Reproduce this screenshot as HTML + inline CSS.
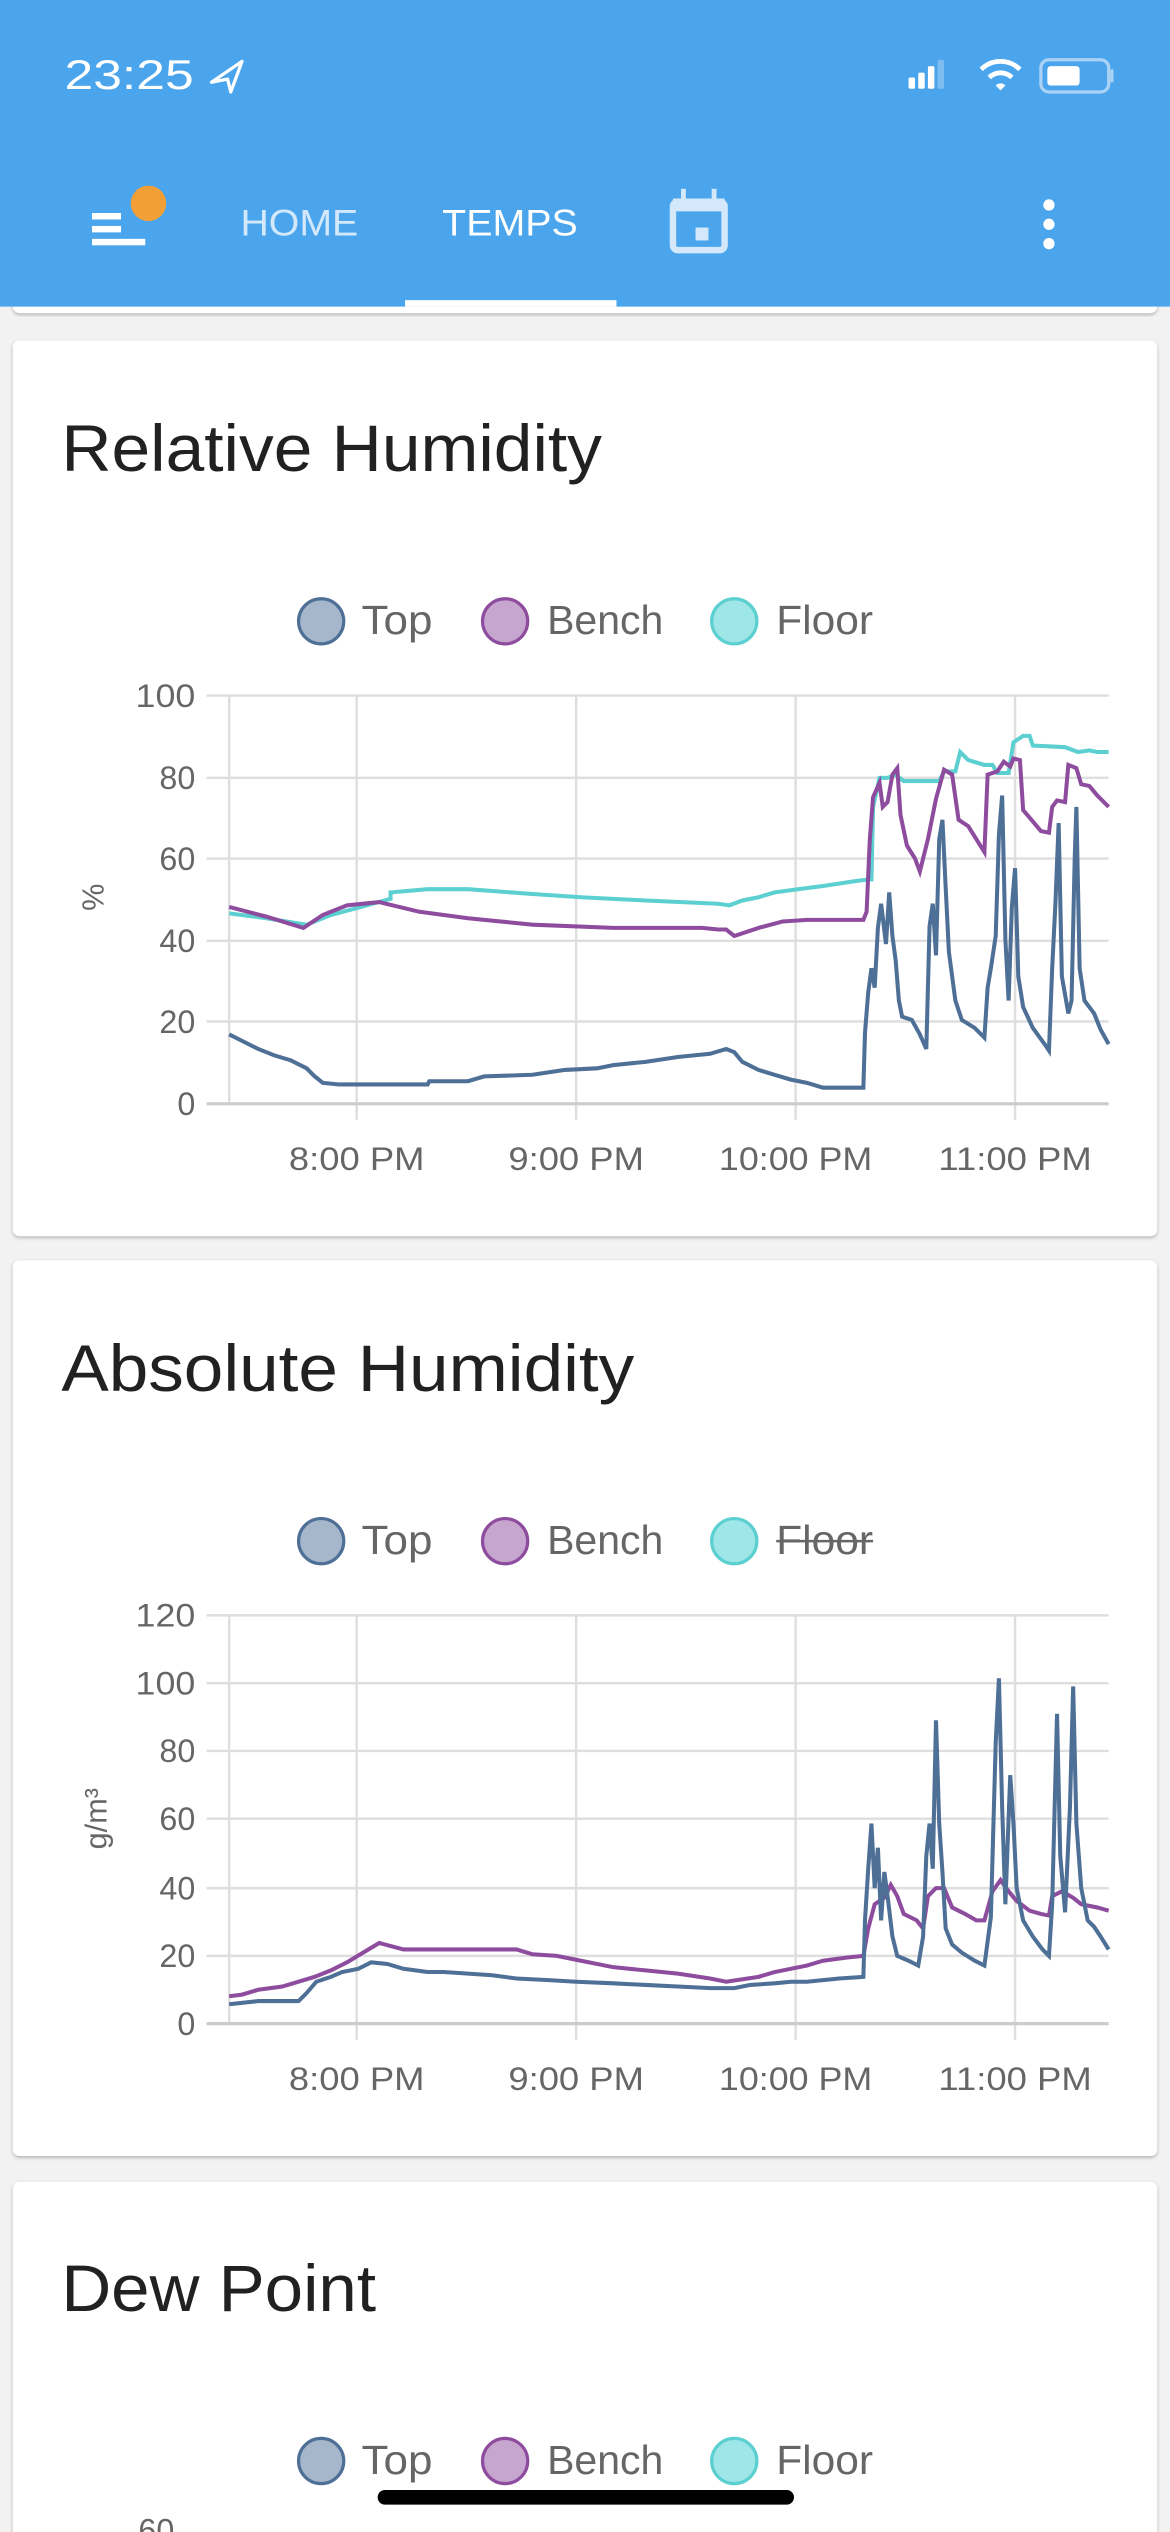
<!DOCTYPE html>
<html><head><meta charset="utf-8"><style>
html,body{margin:0;padding:0;background:#f2f2f2;}
svg{display:block;}
text{font-family:"Liberation Sans",sans-serif;}
</style></head><body>
<svg width="1170" height="2532" viewBox="0 0 725 1569" xmlns="http://www.w3.org/2000/svg">
<defs>
<filter id="sh" x="-5%" y="-5%" width="110%" height="110%"><feDropShadow dx="0" dy="1" stdDeviation="1.2" flood-color="#000" flood-opacity="0.28"/></filter>
</defs>
<rect width="725" height="1569" fill="#f2f2f2"/>
<rect x="8" y="150" width="709" height="44" rx="4" fill="#fff" filter="url(#sh)"/>
<rect x="0" y="0" width="725" height="190" fill="#4ba5ec"/>
<text x="40" y="55" font-size="26" fill="#fff" textLength="80" lengthAdjust="spacingAndGlyphs">23:25</text>
<path d="M131 51 L150 38 L143 57 L141 49 Z" fill="none" stroke="#fff" stroke-width="2" stroke-linejoin="round"/>
<rect x="563" y="48" width="4" height="7" rx="1" fill="#fff"/><rect x="569" y="45" width="4" height="10" rx="1" fill="#fff"/><rect x="575" y="41" width="4" height="14" rx="1" fill="#fff"/><rect x="581" y="37" width="4" height="18" rx="1" fill="#7fbdf0"/>
<path d="M608 43 A17 17 0 0 1 632 43" fill="none" stroke="#fff" stroke-width="3"/>
<path d="M613 48 A10 10 0 0 1 627 48" fill="none" stroke="#fff" stroke-width="3"/>
<path d="M617 53 L620 56 L623 53 A4 4 0 0 0 617 53Z" fill="#fff"/>
<rect x="645" y="37" width="42" height="20" rx="5" fill="none" stroke="#a9d2f5" stroke-width="2"/>
<rect x="649" y="41" width="20" height="12" rx="2" fill="#fff"/>
<rect x="688" y="43" width="2" height="8" fill="#a9d2f5"/>
<rect x="57" y="132" width="18" height="4" fill="#fff"/><rect x="57" y="140" width="18" height="4" fill="#fff"/><rect x="57" y="148" width="33" height="4" fill="#fff"/>
<circle cx="92" cy="126" r="11" fill="#f29f38"/>
<text x="149" y="146" font-size="23" fill="#d3e9fb" textLength="73" lengthAdjust="spacingAndGlyphs">HOME</text>
<text x="274" y="146" font-size="23" fill="#fff" textLength="84" lengthAdjust="spacingAndGlyphs">TEMPS</text>
<rect x="417" y="125" width="32" height="30" rx="3" fill="none" stroke="#d3e9fb" stroke-width="4"/>
<rect x="417" y="123" width="32" height="8" fill="#d3e9fb"/>
<rect x="422" y="117" width="3" height="8" fill="#d3e9fb"/><rect x="441" y="117" width="3" height="8" fill="#d3e9fb"/>
<rect x="431" y="141" width="8" height="8" fill="#d3e9fb"/>
<circle cx="650" cy="127" r="3.5" fill="#fff"/><circle cx="650" cy="139" r="3.5" fill="#fff"/><circle cx="650" cy="151" r="3.5" fill="#fff"/>
<rect x="251" y="186" width="131" height="4" fill="#fff"/>

<!-- CARD 1 -->
<rect x="8" y="211" width="709" height="555" rx="4" fill="#fff" filter="url(#sh)"/>
<text x="38" y="292" font-size="41" fill="#212121" textLength="335" lengthAdjust="spacingAndGlyphs">Relative Humidity</text>
<circle cx="199" cy="385" r="14" fill="#a6b7cb" stroke="#4e6f96" stroke-width="2"/>
<text x="224" y="393" font-size="25" fill="#666" textLength="44" lengthAdjust="spacingAndGlyphs">Top</text>
<circle cx="313" cy="385" r="14" fill="#c6a5ce" stroke="#8e4c9e" stroke-width="2"/>
<text x="339" y="393" font-size="25" fill="#666" textLength="72" lengthAdjust="spacingAndGlyphs">Bench</text>
<circle cx="455" cy="385" r="14" fill="#9ee6e7" stroke="#5ccfd1" stroke-width="2"/>
<text x="481" y="393" font-size="25" fill="#666" textLength="60" lengthAdjust="spacingAndGlyphs">Floor</text>
<g stroke="#dedede" stroke-width="1.5">
<line x1="128" y1="431" x2="687" y2="431"/><line x1="128" y1="482" x2="687" y2="482"/><line x1="128" y1="532" x2="687" y2="532"/><line x1="128" y1="583" x2="687" y2="583"/><line x1="128" y1="633" x2="687" y2="633"/>
<line x1="221" y1="431" x2="221" y2="694"/><line x1="357" y1="431" x2="357" y2="694"/><line x1="493" y1="431" x2="493" y2="694"/><line x1="629" y1="431" x2="629" y2="694"/>
<line x1="142" y1="431" x2="142" y2="684"/>
</g>
<line x1="128" y1="684" x2="687" y2="684" stroke="#ccc" stroke-width="2"/>
<g font-size="20" fill="#666" text-anchor="end">
<text x="121" y="438" textLength="37" lengthAdjust="spacingAndGlyphs">100</text><text x="121" y="489">80</text><text x="121" y="539">60</text><text x="121" y="590">40</text><text x="121" y="640">20</text><text x="121" y="691">0</text>
</g>
<g font-size="20" fill="#666" text-anchor="middle">
<text x="221" y="725" textLength="84" lengthAdjust="spacingAndGlyphs">8:00 PM</text><text x="357" y="725" textLength="84" lengthAdjust="spacingAndGlyphs">9:00 PM</text><text x="493" y="725" textLength="95" lengthAdjust="spacingAndGlyphs">10:00 PM</text><text x="629" y="725" textLength="95" lengthAdjust="spacingAndGlyphs">11:00 PM</text>
</g>
<text transform="translate(64,556) rotate(-90)" font-size="19" fill="#666" text-anchor="middle">%</text>
<polyline fill="none" stroke="#5ccfd1" stroke-width="2.5" points="142,566 165,569 190,573 205,567 220,563 242,557 242,553 265,551 290,551 330,554 360,556 400,558 445,560 452,561 460,558 470,556 480,553 495,551 510,549 530,546 538,545 540,545 541,500 545,482 550,482 555,480 560,484 575,484 582,484 585,478 592,478 595,466 600,471 610,474 615,474 618,479 625,479 628,460 634,456 638,456 640,462 660,463 668,466 675,465 680,466 687,466"/>
<polyline fill="none" stroke="#8e4c9e" stroke-width="2.5" points="142,562 165,568 188,575 200,567 215,561 235,559 260,565 290,569 330,573 380,575 435,575 445,576 450,576 455,580 470,575 485,571 500,570 535,570 537,565 539,520 541,494 545,485 547,500 550,497 553,480 556,476 558,505 562,524 567,532 570,540 575,520 580,495 585,477 590,480 594,508 600,512 605,520 610,528 612,480 618,478 622,472 626,475 628,470 632,471 634,502 640,509 645,515 650,516 652,500 655,496 660,497 662,474 667,476 670,486 675,487 680,493 687,500"/>
<polyline fill="none" stroke="#4e6f96" stroke-width="2.5" points="142,641 150,645 160,650 170,654 180,657 190,662 195,667 200,671 210,672 265,672 266,670 290,670 300,667 330,666 350,663 370,662 380,660 400,658 420,655 440,653 450,650 455,652 460,658 470,663 480,666 490,669 500,671 510,674 535,674 536,640 538,615 540,600 542,612 544,575 546,560 549,585 551,553 553,580 555,595 557,620 559,630 565,632 570,641 574,650 576,574 578,560 580,592 582,520 584,508 586,550 588,590 592,620 596,632 604,637 606,639 610,643 612,612 614,600 617,580 619,517 621,493 623,582 625,620 627,562 629,538 631,605 634,624 640,637 648,648 650,651 652,600 654,560 656,510 658,605 662,628 664,620 666,530 667,500 669,600 672,620 678,628 682,638 687,647"/>

<!-- CARD 2 -->
<rect x="8" y="781" width="709" height="555" rx="4" fill="#fff" filter="url(#sh)"/>
<text x="38" y="862" font-size="41" fill="#212121" textLength="355" lengthAdjust="spacingAndGlyphs">Absolute Humidity</text>
<circle cx="199" cy="955" r="14" fill="#a6b7cb" stroke="#4e6f96" stroke-width="2"/>
<text x="224" y="963" font-size="25" fill="#666" textLength="44" lengthAdjust="spacingAndGlyphs">Top</text>
<circle cx="313" cy="955" r="14" fill="#c6a5ce" stroke="#8e4c9e" stroke-width="2"/>
<text x="339" y="963" font-size="25" fill="#666" textLength="72" lengthAdjust="spacingAndGlyphs">Bench</text>
<circle cx="455" cy="955" r="14" fill="#9ee6e7" stroke="#5ccfd1" stroke-width="2"/>
<text x="481" y="963" font-size="25" fill="#666" textLength="60" lengthAdjust="spacingAndGlyphs">Floor</text>
<line x1="481" y1="955" x2="541" y2="955" stroke="#666" stroke-width="1.5"/>
<g stroke="#dedede" stroke-width="1.5">
<line x1="128" y1="1001" x2="687" y2="1001"/><line x1="128" y1="1043" x2="687" y2="1043"/><line x1="128" y1="1085" x2="687" y2="1085"/><line x1="128" y1="1127" x2="687" y2="1127"/><line x1="128" y1="1170" x2="687" y2="1170"/><line x1="128" y1="1212" x2="687" y2="1212"/>
<line x1="221" y1="1001" x2="221" y2="1264"/><line x1="357" y1="1001" x2="357" y2="1264"/><line x1="493" y1="1001" x2="493" y2="1264"/><line x1="629" y1="1001" x2="629" y2="1264"/>
<line x1="142" y1="1001" x2="142" y2="1254"/>
</g>
<line x1="128" y1="1254" x2="687" y2="1254" stroke="#ccc" stroke-width="2"/>
<g font-size="20" fill="#666" text-anchor="end">
<text x="121" y="1008" textLength="37" lengthAdjust="spacingAndGlyphs">120</text><text x="121" y="1050" textLength="37" lengthAdjust="spacingAndGlyphs">100</text><text x="121" y="1092">80</text><text x="121" y="1134">60</text><text x="121" y="1177">40</text><text x="121" y="1219">20</text><text x="121" y="1261">0</text>
</g>
<g font-size="20" fill="#666" text-anchor="middle">
<text x="221" y="1295" textLength="84" lengthAdjust="spacingAndGlyphs">8:00 PM</text><text x="357" y="1295" textLength="84" lengthAdjust="spacingAndGlyphs">9:00 PM</text><text x="493" y="1295" textLength="95" lengthAdjust="spacingAndGlyphs">10:00 PM</text><text x="629" y="1295" textLength="95" lengthAdjust="spacingAndGlyphs">11:00 PM</text>
</g>
<text transform="translate(66,1127) rotate(-90)" font-size="19" fill="#666" text-anchor="middle">g/m³</text>
<polyline fill="none" stroke="#8e4c9e" stroke-width="2.5" points="142,1237 150,1236 160,1233 175,1231 185,1228 195,1225 205,1221 215,1216 225,1210 235,1204 250,1208 254,1208 290,1208 320,1208 330,1211 345,1212 360,1215 380,1219 400,1221 420,1223 440,1226 450,1228 470,1225 480,1222 490,1220 500,1218 510,1215 525,1213 535,1212 538,1195 542,1180 548,1176 552,1168 556,1175 560,1186 568,1190 572,1195 575,1175 580,1170 585,1170 590,1182 598,1186 605,1190 610,1190 615,1172 620,1165 625,1172 630,1178 638,1184 645,1186 650,1187 652,1175 658,1172 665,1176 670,1180 680,1182 687,1184"/>
<polyline fill="none" stroke="#4e6f96" stroke-width="2.5" points="142,1242 160,1240 185,1240 190,1235 196,1228 205,1225 212,1222 222,1220 230,1216 240,1217 250,1220 265,1222 275,1222 290,1223 305,1224 320,1226 340,1227 357,1228 380,1229 400,1230 420,1231 440,1232 455,1232 465,1230 480,1229 490,1228 500,1228 510,1227 520,1226 535,1225 536,1190 538,1158 540,1130 542,1170 544,1145 546,1190 548,1160 550,1175 553,1200 556,1212 563,1215 569,1218 572,1200 574,1150 576,1130 578,1158 580,1066 582,1130 584,1160 586,1195 590,1205 596,1210 604,1215 610,1218 614,1188 617,1080 619,1040 621,1120 623,1180 626,1100 628,1130 630,1170 634,1190 640,1200 646,1208 650,1212 652,1180 655,1062 657,1150 660,1185 663,1120 665,1045 667,1130 670,1170 674,1190 678,1194 682,1200 687,1208"/>

<!-- CARD 3 -->
<rect x="8" y="1352" width="709" height="240" rx="4" fill="#fff" filter="url(#sh)"/>
<text x="38" y="1432" font-size="41" fill="#212121" textLength="195" lengthAdjust="spacingAndGlyphs">Dew Point</text>
<circle cx="199" cy="1525" r="14" fill="#a6b7cb" stroke="#4e6f96" stroke-width="2"/>
<text x="224" y="1533" font-size="25" fill="#666" textLength="44" lengthAdjust="spacingAndGlyphs">Top</text>
<circle cx="313" cy="1525" r="14" fill="#c6a5ce" stroke="#8e4c9e" stroke-width="2"/>
<text x="339" y="1533" font-size="25" fill="#666" textLength="72" lengthAdjust="spacingAndGlyphs">Bench</text>
<circle cx="455" cy="1525" r="14" fill="#9ee6e7" stroke="#5ccfd1" stroke-width="2"/>
<text x="481" y="1533" font-size="25" fill="#666" textLength="60" lengthAdjust="spacingAndGlyphs">Floor</text>
<text x="108" y="1575" font-size="20" fill="#666" text-anchor="end">60</text>
<rect x="234" y="1543" width="258" height="9" rx="4.5" fill="#000"/>
</svg>
</body></html>
